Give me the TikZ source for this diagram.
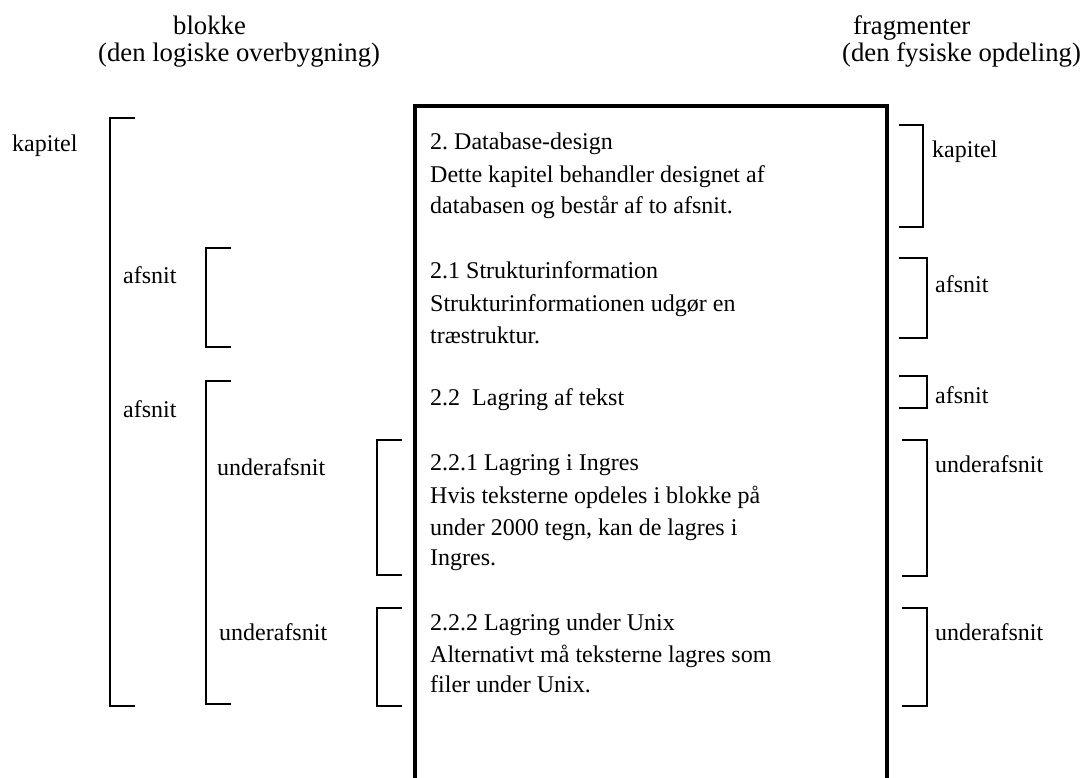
\documentclass[tikz,border=0pt]{standalone}
\usepackage{fontspec}
\setmainfont{Liberation Serif}
\frenchspacing
\begin{document}
\begin{tikzpicture}[x=1pt,y=-1pt,
  txt/.style={anchor=base west,inner sep=0pt,font=\fontsize{24}{29}\selectfont},
  head/.style={anchor=base west,inner sep=0pt,font=\fontsize{26.7}{32}\selectfont},
  pagebox/.style={line width=3.5pt,line cap=rect},
  brace/.style={line width=2.8pt,line join=miter}]
\useasboundingbox (0,0) rectangle (1081,778);

% column headings
\node[head] (hb1) at (173,35) {blokke};
\node[head] (hb2) at (98,62) {(den logiske overbygning)};
\node[head] (hf1) at (853,35) {fragmenter};
\node[head] (hf2) at (842,62) {(den fysiske opdeling)};

% the text page, open at the bottom
\draw[pagebox] (415,780) -- (415,106) -- (887,106) -- (887,780);

% page contents
\node[txt] (t1)  at (430,150) {2. Database-design};
\node[txt] (t2)  at (430,183) {Dette kapitel behandler designet af};
\node[txt] (t3)  at (430,214) {databasen og består af to afsnit.};
\node[txt] (t4)  at (430,278) {2.1 Strukturinformation};
\node[txt] (t5)  at (430,311) {Strukturinformationen udgør en};
\node[txt] (t6)  at (430,343) {træstruktur.};
\node[txt] (t7)  at (430,405) {2.2\ \ Lagring af tekst};
\node[txt] (t8)  at (430,470) {2.2.1 Lagring i Ingres};
\node[txt] (t9)  at (430,503) {Hvis teksterne opdeles i blokke på};
\node[txt] (t10) at (430,535) {under 2000 tegn, kan de lagres i};
\node[txt] (t11) at (430,565) {Ingres.};
\node[txt] (t12) at (430,630) {2.2.2 Lagring under Unix};
\node[txt] (t13) at (430,662) {Alternativt må teksterne lagres som};
\node[txt] (t14) at (430,692) {filer under Unix.};

% logical blocks (left)
\node[txt] (lk)  at (12,152)  {kapitel};
\node[txt] (la1) at (123,283) {afsnit};
\node[txt] (la2) at (123,417) {afsnit};
\node[txt] (lu1) at (217,475) {underafsnit};
\node[txt] (lu2) at (219,640) {underafsnit};

\draw[brace] (135,118) -- (110,118) -- (110,706) -- (135,706);
\draw[brace] (231,248) -- (206,248) -- (206,347) -- (231,347);
\draw[brace] (231,381) -- (206,381) -- (206,704) -- (231,704);
\draw[brace] (402,440) -- (377,440) -- (377,575) -- (402,575);
\draw[brace] (402,608) -- (377,608) -- (377,706) -- (402,706);

% physical fragments (right)
\node[txt] (rk)  at (932,158) {kapitel};
\node[txt] (ra1) at (935,292) {afsnit};
\node[txt] (ra2) at (935,403) {afsnit};
\node[txt] (ru1) at (935,472) {underafsnit};
\node[txt] (ru2) at (935,640) {underafsnit};

\draw[brace] (899,125) -- (923,125) -- (923,227) -- (899,227);
\draw[brace] (899,258) -- (927,258) -- (927,338) -- (899,338);
\draw[brace] (899,376) -- (927,376) -- (927,408) -- (899,408);
\draw[brace] (902,440) -- (927,440) -- (927,576) -- (902,576);
\draw[brace] (902,608) -- (927,608) -- (927,706) -- (902,706);
\end{tikzpicture}
\end{document}
